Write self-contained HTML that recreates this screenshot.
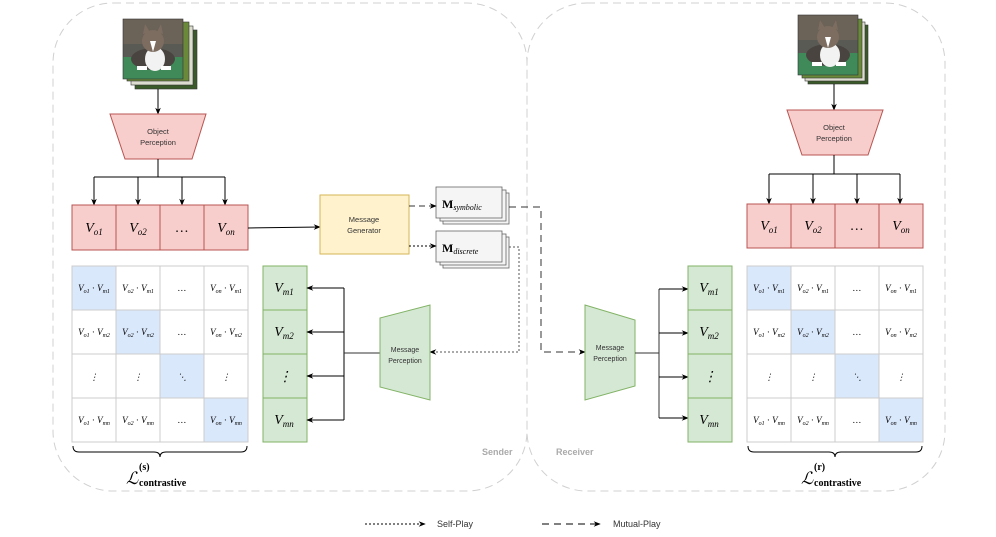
<!DOCTYPE html>
<html><head><meta charset="utf-8"><style>
html,body{margin:0;padding:0;background:#fff;}
svg{display:block;}
.s{font-family:"Liberation Sans",sans-serif;fill:#333;}
.m{font-family:"Liberation Serif",serif;font-style:italic;fill:#000;}
</style></head><body>
<svg width="996" height="537" viewBox="0 0 996 537" xmlns="http://www.w3.org/2000/svg">
<defs>
<marker id="a" viewBox="0 0 10 10" refX="9" refY="5" markerWidth="7" markerHeight="7" orient="auto"><path d="M0,1 L10,5 L0,9 L3,5z" fill="#000"/></marker>
<g id="cat">
<rect x="0" y="0" width="60" height="60" fill="#5a5a55"/>
<rect x="0" y="0" width="60" height="25" fill="#6b6258"/>
<rect x="0" y="38" width="60" height="22" fill="#3f8a58"/>
<ellipse cx="30" cy="40" rx="22" ry="11" fill="#4a4440"/>
<ellipse cx="32" cy="40" rx="10" ry="12" fill="#f2f2f2"/>
<circle cx="30" cy="22" r="11" fill="#7d6d60"/>
<path d="M20,15 L22,5 L27,13 M34,13 L38,5 L40,15" fill="#7d6d60"/>
<path d="M27,22 L30,33 L33,22z" fill="#fff"/>
<rect x="14" y="47" width="10" height="4" fill="#fff"/><rect x="38" y="47" width="10" height="4" fill="#fff"/>
</g>
</defs>
<!-- containers -->
<rect x="53" y="3" width="474" height="488" rx="60" fill="none" stroke="#d0d0d0" stroke-width="1" stroke-dasharray="8,5"/>
<rect x="527" y="3" width="418" height="488" rx="60" fill="none" stroke="#d0d0d0" stroke-width="1" stroke-dasharray="8,5"/>
<text x="482" y="455" class="s" font-size="9" font-weight="bold" style="fill:#aaa">Sender</text>
<text x="556" y="455" class="s" font-size="9" font-weight="bold" style="fill:#aaa">Receiver</text>

<!-- Left image stack -->
<rect x="135" y="30" width="62" height="59" fill="#3a5a2a" stroke="#333" stroke-width="0.6"/>
<rect x="131" y="26" width="62" height="59" fill="#dcdcd0" stroke="#333" stroke-width="0.6"/>
<rect x="127" y="22" width="62" height="59" fill="#6a8a3a" stroke="#333" stroke-width="0.6"/>
<use href="#cat" transform="translate(123,19)"/>
<rect x="123" y="19" width="60" height="60" fill="none" stroke="#333" stroke-width="0.6"/>
<line x1="158" y1="89" x2="158" y2="114" stroke="#000" marker-end="url(#a)"/>
<polygon points="110,114 206,114 192,159 125,159" fill="#f8cecc" stroke="#b85450"/>
<text x="158" y="134" class="s" font-size="7.5" text-anchor="middle">Object</text>
<text x="158" y="145" class="s" font-size="7.5" text-anchor="middle">Perception</text>
<line x1="158" y1="159" x2="158" y2="177" stroke="#000"/>
<line x1="94" y1="177" x2="225" y2="177" stroke="#000"/>
<line x1="94" y1="177" x2="94" y2="205" stroke="#000" marker-end="url(#a)"/>
<line x1="138" y1="177" x2="138" y2="205" stroke="#000" marker-end="url(#a)"/>
<line x1="182" y1="177" x2="182" y2="205" stroke="#000" marker-end="url(#a)"/>
<line x1="225" y1="177" x2="225" y2="205" stroke="#000" marker-end="url(#a)"/>
<g fill="#f8cecc" stroke="#b85450">
<rect x="72" y="205" width="44" height="45"/><rect x="116" y="205" width="44" height="45"/><rect x="160" y="205" width="44" height="45"/><rect x="204" y="205" width="44" height="45"/>
</g>
<g font-size="14">
<text x="94" y="232" class="m" text-anchor="middle">V<tspan font-size="9" dy="3">o1</tspan></text>
<text x="138" y="232" class="m" text-anchor="middle">V<tspan font-size="9" dy="3">o2</tspan></text>
<text x="182" y="232" class="m" text-anchor="middle" font-style="normal">…</text>
<text x="226" y="232" class="m" text-anchor="middle">V<tspan font-size="9" dy="3">on</tspan></text>
</g>
<line x1="248" y1="228" x2="320" y2="227" stroke="#000" marker-end="url(#a)"/>
<rect x="320" y="195" width="89" height="59" fill="#fff2cc" stroke="#d6b656"/>
<text x="364" y="222" class="s" font-size="7.5" text-anchor="middle">Message</text>
<text x="364" y="233" class="s" font-size="7.5" text-anchor="middle">Generator</text>
<!-- messages -->
<g fill="#f5f5f5" stroke="#666" stroke-width="0.8">
<rect x="443" y="193" width="66" height="31"/><rect x="440" y="190" width="66" height="31"/><rect x="436" y="187" width="66" height="31"/>
<rect x="443" y="237" width="66" height="31"/><rect x="440" y="234" width="66" height="31"/><rect x="436" y="231" width="66" height="31"/>
</g>
<text x="442" y="208" font-family="Liberation Serif,serif" font-weight="bold" font-size="12">M<tspan font-style="italic" font-weight="normal" font-size="8" dy="2">symbolic</tspan></text>
<text x="442" y="252" font-family="Liberation Serif,serif" font-weight="bold" font-size="12">M<tspan font-style="italic" font-weight="normal" font-size="8" dy="2">discrete</tspan></text>
<line x1="409" y1="206" x2="436" y2="206" stroke="#333" stroke-dasharray="6,4" marker-end="url(#a)"/>
<line x1="409" y1="246" x2="436" y2="246" stroke="#000" stroke-dasharray="2,2" marker-end="url(#a)"/>
<polyline points="509,247 519,247 519,352 430,352" fill="none" stroke="#555" stroke-dasharray="2,2" marker-end="url(#a)"/>
<polyline points="509,207 541,207 541,352 585,352" fill="none" stroke="#333" stroke-dasharray="7,5" marker-end="url(#a)"/>

<!-- left matrix -->
<g id="mat">
<rect x="72" y="266" width="176" height="176" fill="#fff"/>
<g fill="#dae8fc"><rect x="72" y="266" width="44" height="44"/><rect x="116" y="310" width="44" height="44"/><rect x="160" y="354" width="44" height="44"/><rect x="204" y="398" width="44" height="44"/></g>
<g stroke="#ccc"><line x1="116" y1="266" x2="116" y2="442"/><line x1="160" y1="266" x2="160" y2="442"/><line x1="204" y1="266" x2="204" y2="442"/>
<line x1="72" y1="310" x2="248" y2="310"/><line x1="72" y1="354" x2="248" y2="354"/><line x1="72" y1="398" x2="248" y2="398"/>
<rect x="72" y="266" width="176" height="176" fill="none"/></g>
<g font-size="9" class="m" text-anchor="middle">
<text x="94" y="291" class="m">V<tspan font-size="6" dy="2">o1</tspan><tspan dy="-2" font-style="normal"> · </tspan>V<tspan font-size="6" dy="2">m1</tspan></text>
<text x="138" y="291" class="m">V<tspan font-size="6" dy="2">o2</tspan><tspan dy="-2" font-style="normal"> · </tspan>V<tspan font-size="6" dy="2">m1</tspan></text>
<text x="182" y="291" class="m" font-style="normal">…</text>
<text x="226" y="291" class="m">V<tspan font-size="6" dy="2">on</tspan><tspan dy="-2" font-style="normal"> · </tspan>V<tspan font-size="6" dy="2">m1</tspan></text>
<text x="94" y="335" class="m">V<tspan font-size="6" dy="2">o1</tspan><tspan dy="-2" font-style="normal"> · </tspan>V<tspan font-size="6" dy="2">m2</tspan></text>
<text x="138" y="335" class="m">V<tspan font-size="6" dy="2">o2</tspan><tspan dy="-2" font-style="normal"> · </tspan>V<tspan font-size="6" dy="2">m2</tspan></text>
<text x="182" y="335" class="m" font-style="normal">…</text>
<text x="226" y="335" class="m">V<tspan font-size="6" dy="2">on</tspan><tspan dy="-2" font-style="normal"> · </tspan>V<tspan font-size="6" dy="2">m2</tspan></text>
<text x="94" y="380" class="m" font-style="normal">⋮</text><text x="138" y="380" class="m" font-style="normal">⋮</text><text x="182" y="380" class="m" font-style="normal">⋱</text><text x="226" y="380" class="m" font-style="normal">⋮</text>
<text x="94" y="423" class="m">V<tspan font-size="6" dy="2">o1</tspan><tspan dy="-2" font-style="normal"> · </tspan>V<tspan font-size="6" dy="2">mn</tspan></text>
<text x="138" y="423" class="m">V<tspan font-size="6" dy="2">o2</tspan><tspan dy="-2" font-style="normal"> · </tspan>V<tspan font-size="6" dy="2">mn</tspan></text>
<text x="182" y="423" class="m" font-style="normal">…</text>
<text x="226" y="423" class="m">V<tspan font-size="6" dy="2">on</tspan><tspan dy="-2" font-style="normal"> · </tspan>V<tspan font-size="6" dy="2">mn</tspan></text>
</g>
<path d="M73,446 Q73,452 79,452 L154,452 Q160,452 160,457 Q160,452 166,452 L241,452 Q247,452 247,446" fill="none" stroke="#000"/>
<text x="126" y="484" font-family="Liberation Serif,serif" font-style="italic" font-size="17">ℒ</text>
<text x="139" y="486" font-family="Liberation Serif,serif" font-weight="bold" font-size="10">contrastive</text>
</g>
<text x="139" y="470" font-family="Liberation Serif,serif" font-weight="bold" font-size="10">(s)</text>

<!-- left Vm column -->
<g fill="#d5e8d4" stroke="#82b366"><rect x="263" y="266" width="44" height="44"/><rect x="263" y="310" width="44" height="44"/><rect x="263" y="354" width="44" height="44"/><rect x="263" y="398" width="44" height="44"/></g>
<g font-size="14" class="m" text-anchor="middle">
<text x="284" y="292" class="m">V<tspan font-size="9" dy="3">m1</tspan></text>
<text x="284" y="336" class="m">V<tspan font-size="9" dy="3">m2</tspan></text>
<text x="285" y="381" class="m" font-style="normal">⋮</text>
<text x="284" y="424" class="m">V<tspan font-size="9" dy="3">mn</tspan></text>
</g>
<line x1="344" y1="288" x2="344" y2="420" stroke="#000"/>
<line x1="344" y1="353" x2="380" y2="353" stroke="#333"/>
<line x1="344" y1="288" x2="307" y2="288" stroke="#000" marker-end="url(#a)"/>
<line x1="344" y1="332" x2="307" y2="332" stroke="#000" marker-end="url(#a)"/>
<line x1="344" y1="376" x2="307" y2="376" stroke="#000" marker-end="url(#a)"/>
<line x1="344" y1="420" x2="307" y2="420" stroke="#000" marker-end="url(#a)"/>
<polygon points="380,318 430,305 430,400 380,387" fill="#d5e8d4" stroke="#82b366"/>
<text x="405" y="352" class="s" font-size="7" text-anchor="middle">Message</text>
<text x="405" y="363" class="s" font-size="7" text-anchor="middle">Perception</text>

<!-- right side -->
<rect x="808" y="25" width="60" height="59" fill="#3a5a2a" stroke="#333" stroke-width="0.6"/>
<rect x="805" y="22" width="60" height="59" fill="#dcdcd0" stroke="#333" stroke-width="0.6"/>
<rect x="802" y="19" width="60" height="59" fill="#6a8a3a" stroke="#333" stroke-width="0.6"/>
<use href="#cat" transform="translate(798,15)"/>
<rect x="798" y="15" width="60" height="60" fill="none" stroke="#333" stroke-width="0.6"/>
<line x1="834" y1="84" x2="834" y2="110" stroke="#000" marker-end="url(#a)"/>
<polygon points="787,110 883,110 868,155 802,155" fill="#f8cecc" stroke="#b85450"/>
<text x="834" y="130" class="s" font-size="7.5" text-anchor="middle">Object</text>
<text x="834" y="141" class="s" font-size="7.5" text-anchor="middle">Perception</text>
<line x1="834" y1="155" x2="834" y2="174" stroke="#000"/>
<line x1="769" y1="174" x2="900" y2="174" stroke="#000"/>
<line x1="769" y1="174" x2="769" y2="204" stroke="#000" marker-end="url(#a)"/>
<line x1="813" y1="174" x2="813" y2="204" stroke="#000" marker-end="url(#a)"/>
<line x1="857" y1="174" x2="857" y2="204" stroke="#000" marker-end="url(#a)"/>
<line x1="900" y1="174" x2="900" y2="204" stroke="#000" marker-end="url(#a)"/>
<g fill="#f8cecc" stroke="#b85450">
<rect x="747" y="204" width="44" height="44"/><rect x="791" y="204" width="44" height="44"/><rect x="835" y="204" width="44" height="44"/><rect x="879" y="204" width="44" height="44"/>
</g>
<g font-size="14">
<text x="769" y="230" class="m" text-anchor="middle">V<tspan font-size="9" dy="3">o1</tspan></text>
<text x="813" y="230" class="m" text-anchor="middle">V<tspan font-size="9" dy="3">o2</tspan></text>
<text x="857" y="230" class="m" text-anchor="middle" font-style="normal">…</text>
<text x="901" y="230" class="m" text-anchor="middle">V<tspan font-size="9" dy="3">on</tspan></text>
</g>
<polygon points="585,305 635,320 635,386 585,400" fill="#d5e8d4" stroke="#82b366"/>
<text x="610" y="350" class="s" font-size="7" text-anchor="middle">Message</text>
<text x="610" y="361" class="s" font-size="7" text-anchor="middle">Perception</text>
<line x1="635" y1="353" x2="659" y2="353" stroke="#333"/>
<line x1="659" y1="289" x2="659" y2="418" stroke="#333"/>
<line x1="659" y1="289" x2="688" y2="289" stroke="#000" marker-end="url(#a)"/>
<line x1="659" y1="333" x2="688" y2="333" stroke="#000" marker-end="url(#a)"/>
<line x1="659" y1="377" x2="688" y2="377" stroke="#000" marker-end="url(#a)"/>
<line x1="659" y1="418" x2="688" y2="418" stroke="#000" marker-end="url(#a)"/>
<g fill="#d5e8d4" stroke="#82b366"><rect x="688" y="266" width="44" height="44"/><rect x="688" y="310" width="44" height="44"/><rect x="688" y="354" width="44" height="44"/><rect x="688" y="398" width="44" height="44"/></g>
<g font-size="14" class="m" text-anchor="middle">
<text x="709" y="292" class="m">V<tspan font-size="9" dy="3">m1</tspan></text>
<text x="709" y="336" class="m">V<tspan font-size="9" dy="3">m2</tspan></text>
<text x="710" y="381" class="m" font-style="normal">⋮</text>
<text x="709" y="424" class="m">V<tspan font-size="9" dy="3">mn</tspan></text>
</g>
<use href="#mat" transform="translate(675,0)"/>
<text x="814" y="470" font-family="Liberation Serif,serif" font-weight="bold" font-size="10">(r)</text>

<!-- legend -->
<line x1="365" y1="524" x2="425" y2="524" stroke="#000" stroke-dasharray="2,2" marker-end="url(#a)"/>
<text x="437" y="527" class="s" font-size="9">Self-Play</text>
<line x1="542" y1="524" x2="600" y2="524" stroke="#000" stroke-dasharray="7,5" marker-end="url(#a)"/>
<text x="613" y="527" class="s" font-size="9">Mutual-Play</text>
</svg>
</body></html>
